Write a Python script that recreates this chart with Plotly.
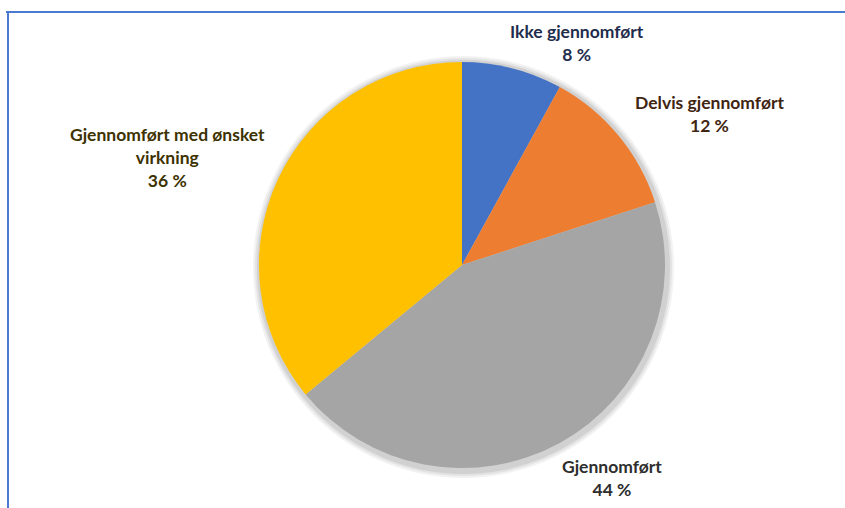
import plotly.graph_objects as go

labels = ["Ikke gjennomført", "Delvis gjennomført", "Gjennomført", "Gjennomført med ønsket virkning"]
values = [8, 12, 44, 36]
colors = ["#4472C4", "#ED7D31", "#A5A5A5", "#FFC000"]
text_colors = ["#1F2D4D", "#3F2512", "#2E2E2E", "#3D3200"]
label_text = ["Ikke gjennomført", "Delvis gjennomført", "Gjennomført", "Gjennomført med ønsket<br>virkning"]
# label anchor positions (paper coords)
label_pos = [(0.683, 0.915), (0.840, 0.775), (0.724, 0.06), (0.198, 0.69)]

W, H = 845, 508
cx, cy, r = 462, 265, 203

fig = go.Figure()
fig.add_trace(go.Pie(
    labels=labels, values=values, sort=False, direction="clockwise", rotation=0,
    marker=dict(colors=colors, line=dict(width=0)),
    textinfo="none", hoverinfo="label+percent", showlegend=False,
    domain=dict(x=[(cx - r) / W, (cx + r) / W], y=[1 - (cy + r) / H, 1 - (cy - r) / H]),
))

total = sum(values)
annotations = []
for lab, v, col, (x, y) in zip(label_text, values, text_colors, label_pos):
    pct = round(100 * v / total)
    annotations.append(dict(
        x=x, y=y, xref="paper", yref="paper", showarrow=False,
        text=f"<b>{lab}<br>{pct} %</b>", align="center",
        font=dict(family="Lato, Calibri, sans-serif", size=17.5, color=col),
        xanchor="center", yanchor="middle",
    ))

shapes = []
# soft shadow behind pie (layered translucent circles)
for grow, alpha in [(7, 0.05), (5, 0.06), (3, 0.08)]:
    shapes.append(dict(type="circle", xref="paper", yref="paper", layer="below",
                       x0=(cx - r - grow + 1) / W, x1=(cx + r + grow + 2) / W,
                       y0=1 - (cy + r + grow + 3) / H, y1=1 - (cy - r - grow + 1) / H,
                       fillcolor=f"rgba(0,0,0,{alpha})", line=dict(width=0)))
shapes += [
    dict(type="line", xref="paper", yref="paper", x0=6 / W, x1=1, y0=1 - 12 / H, y1=1 - 12 / H,
         line=dict(color="#4A7BD0", width=2)),
    dict(type="line", xref="paper", yref="paper", x0=8 / W, x1=8 / W, y0=0, y1=1 - 12 / H,
         line=dict(color="#4A7BD0", width=2)),
]

fig.update_layout(
    width=W, height=H, margin=dict(l=0, r=0, t=0, b=0),
    paper_bgcolor="white", plot_bgcolor="white",
    annotations=annotations, shapes=shapes,
)
fig.write_html("out.html")
